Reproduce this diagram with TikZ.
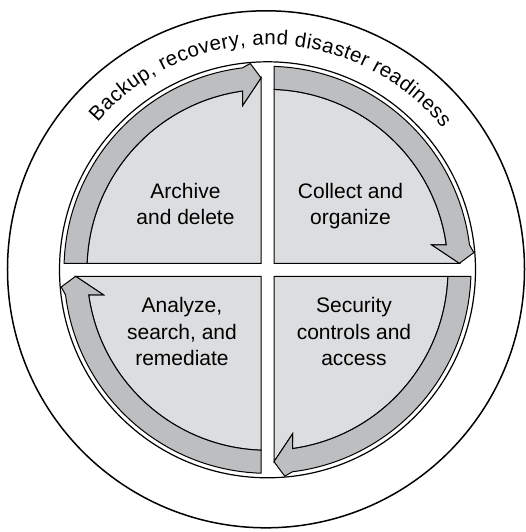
\documentclass[tikz,border=0pt]{standalone}
\usepackage{fontspec}
\setmainfont{Liberation Sans}
\usetikzlibrary{decorations.text}
\definecolor{quadfill}{RGB}{220,221,223}
\definecolor{bandfill}{RGB}{189,190,192}
\begin{document}
\begin{tikzpicture}[x=1pt,y=1pt,
  quad/.style={fill=quadfill, draw=black, line width=1pt, line join=miter},
  band/.style={fill=bandfill, draw=black, line width=1pt, line join=miter},
  lbl/.style={font=\fontsize{21}{26.4}\selectfont, align=center, inner sep=0pt}]
\useasboundingbox (-267.5,-262.2) rectangle (257.5,269.8);
\fill[white] (-267.5,-262.2) rectangle (257.5,269.8);
\draw[line width=1.5pt] (-1.5,0.5) circle[radius=258.5];
\draw[line width=1.2pt] (0,0) circle[radius=208];
\foreach \r in {0,90,180,270}{
 \begin{scope}[rotate=\r]
  \path[quad] (6.5,6.5) -- (6.5,180.38) arc[start angle=87.94, end angle=7.96, radius=180.5]
     -- (164.1,25) -- (191.9,6.5) -- cycle;
  \path[band] (6.5,180.38) -- (6.5,203.4) arc[start angle=88.17, end angle=7.06, radius=203.5]
     -- (206.3,17.2) -- (191.9,6.5) -- (164.1,25) -- (178.8,25)
     arc[start angle=7.96, end angle=87.94, radius=180.5] -- cycle;
 \end{scope}
}
\node[lbl] (archive) at (-82,66) {Archive\\and delete};
\node[lbl] (collect) at (83,63.7) {Collect and\\organize};
\node[lbl] (analyze) at (-85.5,-61.9) {Analyze,\\search, and\\remediate};
\node[lbl] (security) at (86.5,-61.9) {Security\\controls and\\access};
\path[decorate, decoration={text along path,
   text={|\fontsize{20.5}{20.5}\selectfont|Backup, recovery, and disaster readiness},
   text align={fit to path}}]
   (139:225) arc[start angle=139, end angle=39, radius=225];
\end{tikzpicture}
\end{document}
